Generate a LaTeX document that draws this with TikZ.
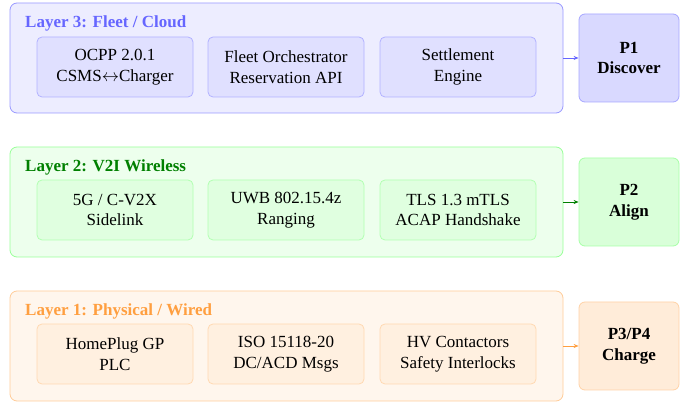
\documentclass[tikz,border=0pt]{standalone}
\usepackage{fontspec}
\setmainfont{Liberation Serif}
\usetikzlibrary{arrows.meta}
\begin{document}
\begin{tikzpicture}[x=1pt,y=-1pt,
  every node/.style={font=\fontsize{17}{20.5}\selectfont, align=center, inner sep=0pt},
  layerbox/.style={draw=#1!40, fill=#1!7, rounded corners=7pt, line width=0.8pt, minimum width=553pt, minimum height=110pt},
  itembox/.style={draw=#1!30, fill=#1!12, rounded corners=5pt, line width=0.8pt, minimum width=156pt, minimum height=60pt},
  phasebox/.style={draw=#1!35, fill=#1!15, rounded corners=6pt, line width=0.8pt, minimum width=100pt, minimum height=88pt, font=\fontsize{17}{20.5}\selectfont\bfseries},
  layertitle/.style={anchor=base west, font=\fontsize{17}{20.5}\selectfont\bfseries},
  link/.style={-{Stealth[length=5pt,width=4pt]}, line width=0.8pt}
]
\useasboundingbox (0,0) rectangle (694,403);
\colorlet{orangeL}{orange!75}
% Layer 3
\node[layerbox=blue] (L3) at (286.5,58) {};
\node[layertitle, text=blue!60] (T3) at (25,28) {Layer 3: Fleet / Cloud};
\node[itembox=blue] (A3) at (115,67) {OCPP 2.0.1\\CSMS$\leftrightarrow$Charger};
\node[itembox=blue] (B3) at (286,67) {Fleet Orchestrator\\Reservation API};
\node[itembox=blue] (C3) at (458,67) {Settlement\\Engine};
\node[phasebox=blue] (P1) at (629,58) {P1\\Discover};
\draw[link, blue!60] (L3.east) -- (P1.west);
% Layer 2
\node[layerbox=green] (L2) at (286.5,202) {};
\node[layertitle, text=green!50!black] (T2) at (25,172) {Layer 2: V2I Wireless};
\node[itembox=green] (A2) at (115,210) {5G / C-V2X\\Sidelink};
\node[itembox=green] (B2) at (286,210) {UWB 802.15.4z\\Ranging};
\node[itembox=green] (C2) at (458,210) {TLS 1.3 mTLS\\ACAP Handshake};
\node[phasebox=green] (P2) at (629,202) {P2\\Align};
\draw[link, green!50!black] (L2.east) -- (P2.west);
% Layer 1
\node[layerbox=orange] (L1) at (286.5,346) {};
\node[layertitle, text=orangeL] (T1) at (25,316) {Layer 1: Physical / Wired};
\node[itembox=orange] (A1) at (115,354) {HomePlug GP\\PLC};
\node[itembox=orange] (B1) at (286,354) {ISO 15118-20\\DC/ACD Msgs};
\node[itembox=orange] (C1) at (458,354) {HV Contactors\\Safety Interlocks};
\node[phasebox=orange] (P3) at (629,346) {P3/P4\\Charge};
\draw[link, orangeL] (L1.east) -- (P3.west);
\end{tikzpicture}
\end{document}
